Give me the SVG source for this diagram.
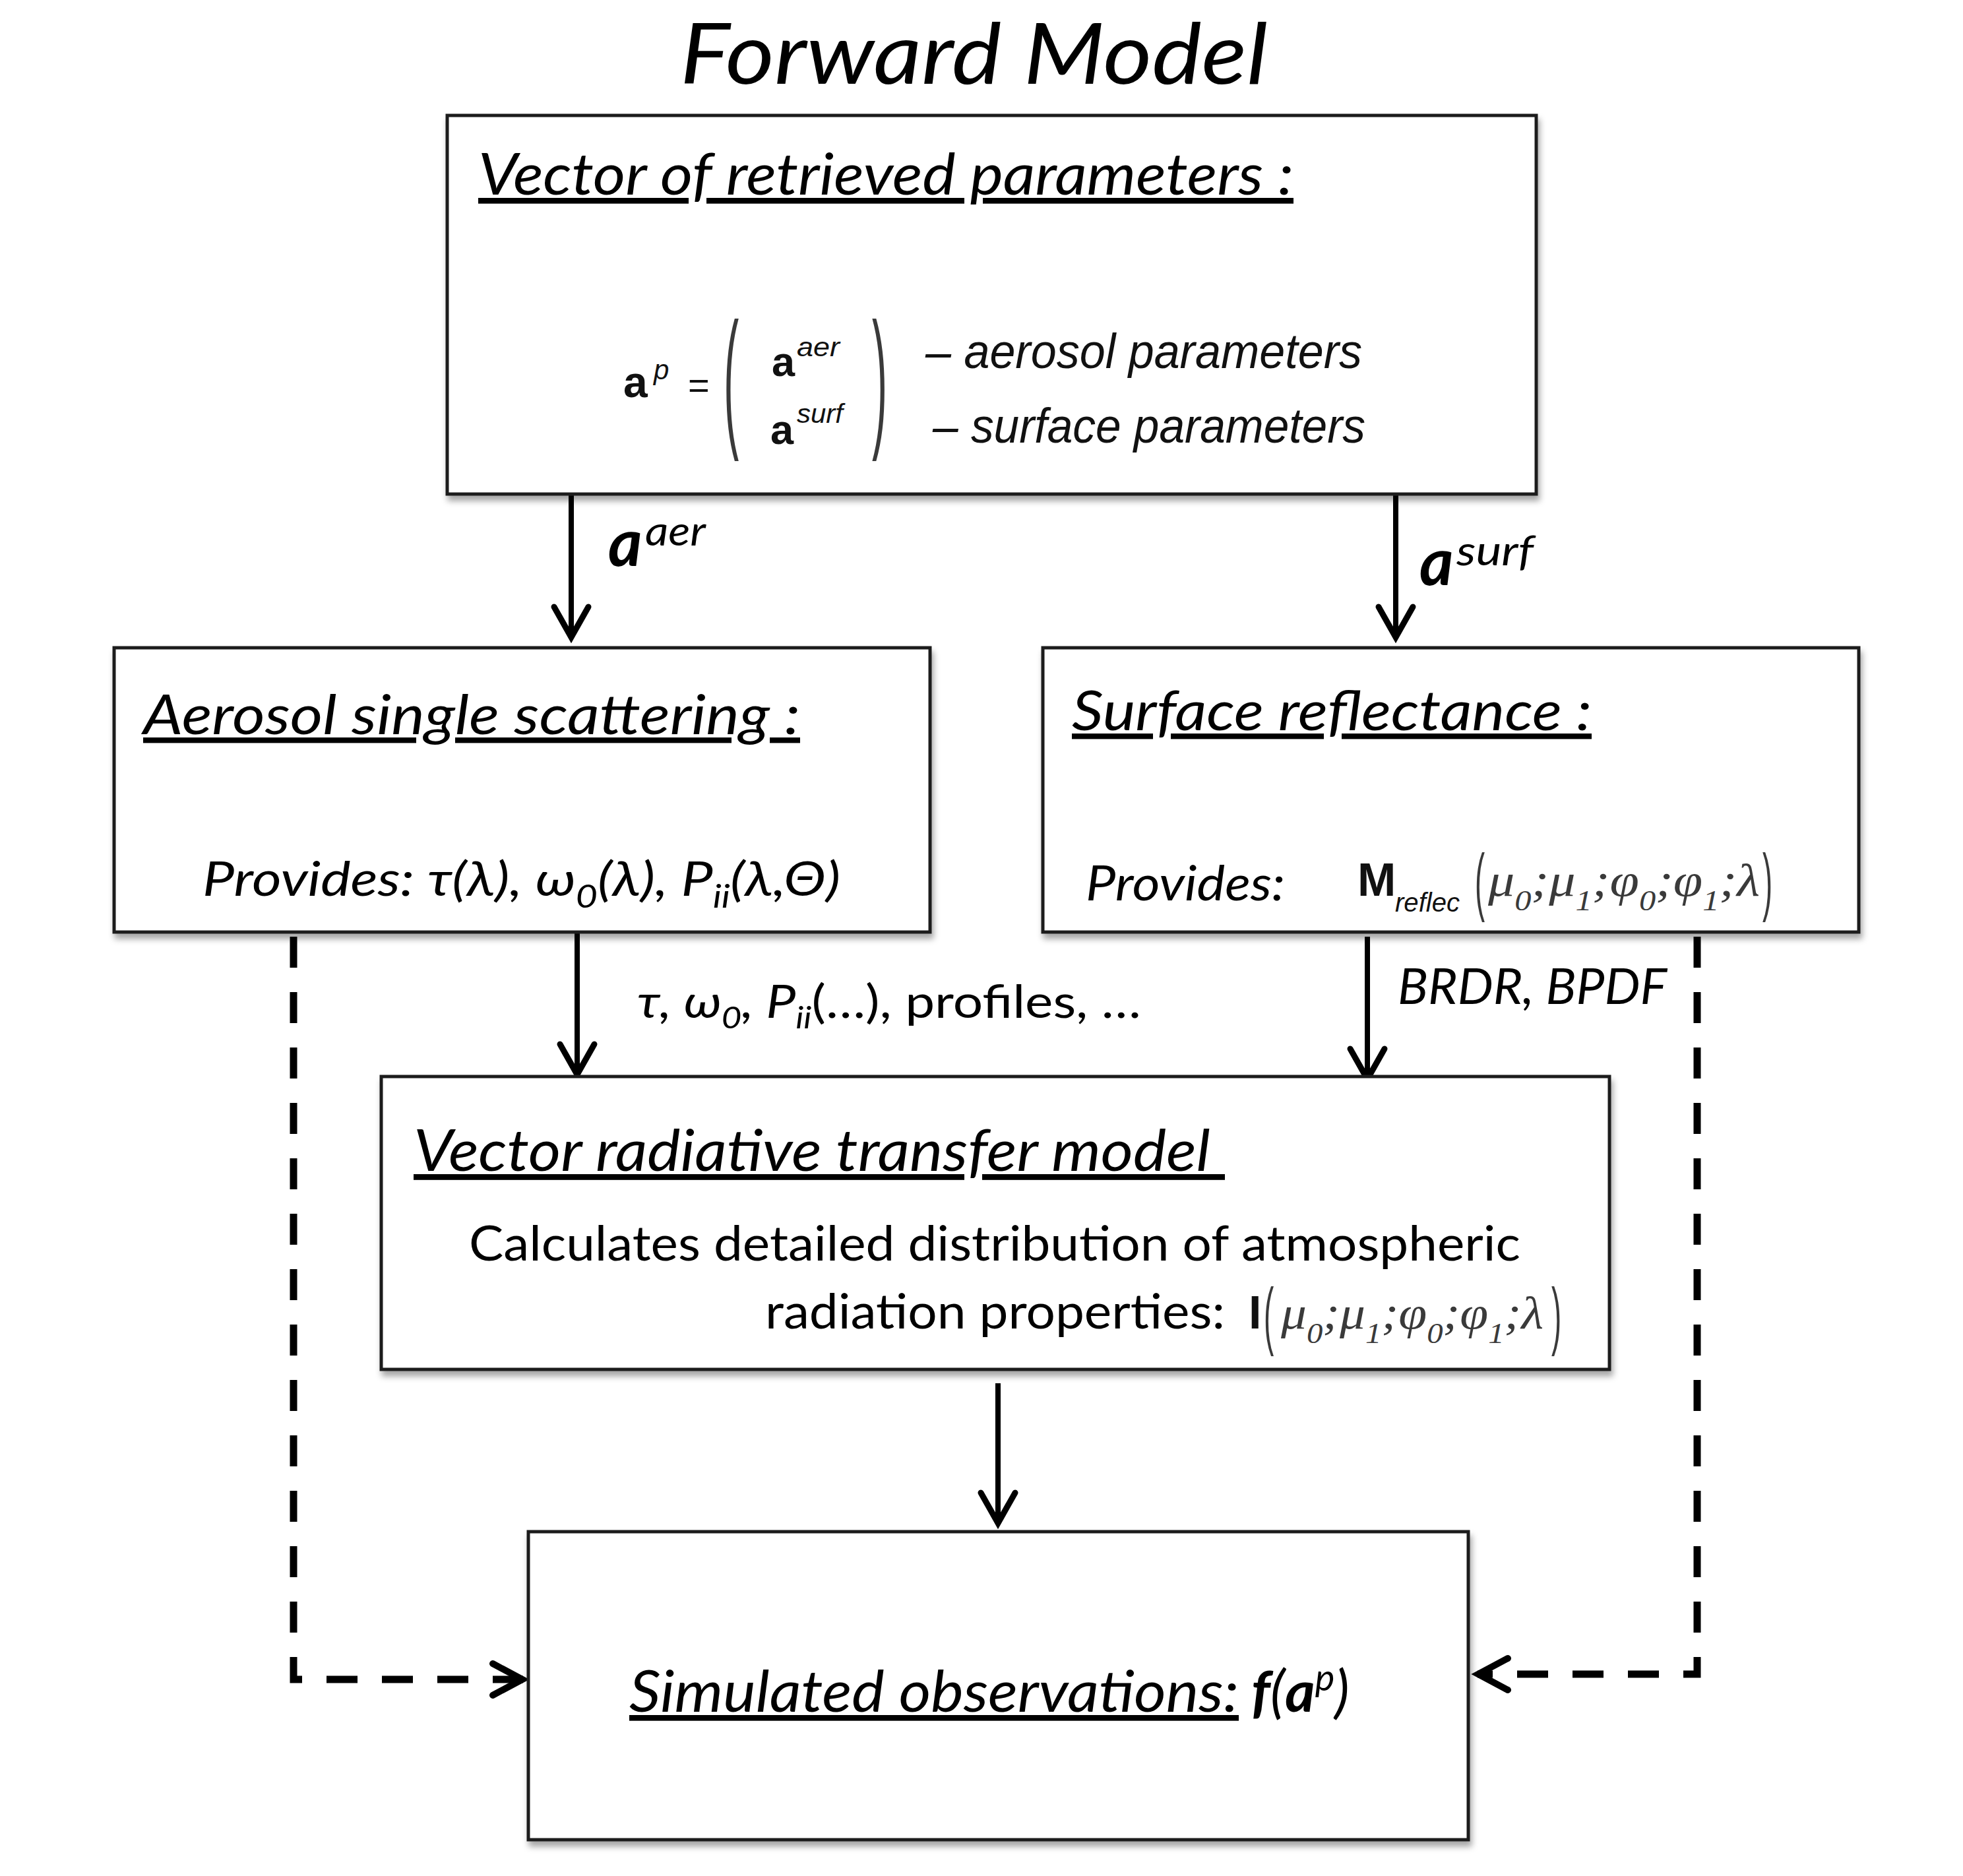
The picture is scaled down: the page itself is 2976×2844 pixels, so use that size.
<svg xmlns="http://www.w3.org/2000/svg" width="2976" height="2844" viewBox="0 0 2976 2844">
<style>
.box{fill:#fff;stroke:#1e1e1e;stroke-width:5;filter:url(#sh)}
.cal{font-family:Lato,'Noto Sans','DejaVu Sans',sans-serif;fill:#000}
.it{font-style:italic}
.ar{font-family:'Liberation Sans',Arial,sans-serif;fill:#111}
.ser{font-family:'Liberation Serif','DejaVu Serif',serif;font-style:italic;fill:#3a3a3a}
.par{font-family:'Liberation Sans',Arial,sans-serif;fill:#3a3a3a}
.solid{fill:none;stroke:#000;stroke-width:8;marker-end:url(#ah)}
.dash{fill:none;stroke:#000;stroke-width:11;stroke-dasharray:47 37;marker-end:url(#ahd)}
</style>
<defs>
<filter id="sh" x="-5%" y="-5%" width="115%" height="120%">
<feDropShadow dx="3" dy="8" stdDeviation="5" flood-color="#000" flood-opacity="0.35"/>
</filter>
<marker id="ah" markerUnits="userSpaceOnUse" orient="auto" refX="0" refY="0" markerWidth="80" markerHeight="80" viewBox="-60 -40 80 80" overflow="visible">
<path d="M-45,-26 L1,0 L-45,26" fill="none" stroke="#000" stroke-width="9" stroke-dasharray="none" stroke-linejoin="miter" stroke-linecap="round"/>
</marker>
<marker id="ahd" markerUnits="userSpaceOnUse" orient="auto" refX="0" refY="0" markerWidth="80" markerHeight="80" viewBox="-60 -40 80 80" overflow="visible">
<path d="M-46,-24 L-1,0 L-46,24" fill="none" stroke="#000" stroke-width="10" stroke-dasharray="none" stroke-linejoin="miter" stroke-linecap="round"/>
</marker>
</defs>
<rect width="2976" height="2844" fill="#fff"/>

<text id="title" class="cal it" x="1031" y="127" font-size="128" textLength="891" lengthAdjust="spacingAndGlyphs">Forward Model</text>

<g id="connectors">
<path class="solid" d="M866,751 V965"/>
<path class="solid" d="M2116,751 V965"/>
<path class="solid" d="M875,1415 V1628"/>
<path class="solid" d="M2073,1420 V1635"/>
<path class="solid" d="M1513,2097 V2308"/>
<path class="dash" d="M445,1420 V2546 H793"/>
<path class="dash" d="M2573,1420 V2538 H2240"/>
<g id="connector-labels">
<text class="cal it" font-size="99" font-weight="bold" x="922" y="858">a</text>
<text class="cal it" font-size="63" x="978" y="827" textLength="92" lengthAdjust="spacingAndGlyphs">aer</text>
<text class="cal it" font-size="99" font-weight="bold" x="2152" y="887">a</text>
<text class="cal it" font-size="63" x="2208" y="857" textLength="117" lengthAdjust="spacingAndGlyphs">surf</text>
<text class="cal" font-size="70" x="966" y="1543" textLength="764" lengthAdjust="spacingAndGlyphs"><tspan font-style="italic">τ, ω</tspan><tspan font-style="italic" font-size="46" dy="16">0</tspan><tspan font-style="italic" dy="-16">, P</tspan><tspan font-style="italic" font-size="46" dy="16">ii</tspan><tspan dy="-16">(…), profiles, …</tspan></text>
<text class="cal it" font-size="75" x="2119" y="1522" textLength="408" lengthAdjust="spacingAndGlyphs">BRDR, BPDF</text>
</g>
</g>

<g id="node-vector">
<rect class="box" x="678" y="175" width="1651" height="574"/>
<text class="cal it" font-size="87" x="725" y="295" textLength="1236" lengthAdjust="spacingAndGlyphs" text-decoration="underline">Vector of retrieved parameters :</text>
<text class="ar" font-weight="bold" font-size="66" x="945" y="602">a</text>
<text class="ar it" font-size="42" x="991" y="575">p</text>
<text class="ar" font-size="56" x="1043" y="603">=</text>
<text class="par" font-size="232" transform="translate(1097,651) scale(0.3,1)">(</text>
<text class="ar" font-weight="bold" font-size="63" x="1170" y="570">a</text>
<text class="ar it" font-size="40" x="1208" y="540" textLength="65" lengthAdjust="spacingAndGlyphs">aer</text>
<text class="ar" font-weight="bold" font-size="63" x="1168" y="673">a</text>
<text class="ar it" font-size="40" x="1208" y="641" textLength="70" lengthAdjust="spacingAndGlyphs">surf</text>
<text class="par" font-size="232" transform="translate(1322,651) scale(0.3,1)">)</text>
<text class="ar it" font-size="74" x="1403" y="558" textLength="662" lengthAdjust="spacingAndGlyphs" fill="#222">– aerosol parameters</text>
<text class="ar it" font-size="74" x="1414" y="671" textLength="656" lengthAdjust="spacingAndGlyphs" fill="#222">– surface parameters</text>
</g>

<g id="node-aerosol">
<rect class="box" x="173" y="982" width="1237" height="431"/>
<text class="cal it" font-size="84" x="217" y="1113" textLength="996" lengthAdjust="spacingAndGlyphs" text-decoration="underline">Aerosol single scattering :</text>
<text class="cal it" font-size="72" x="307" y="1358" textLength="967" lengthAdjust="spacingAndGlyphs">Provides: τ(λ), ω<tspan font-size="48" dy="18">0</tspan><tspan dy="-18">(λ), P</tspan><tspan font-size="48" dy="18">ii</tspan><tspan dy="-18">(λ,Θ)</tspan></text>
</g>

<g id="node-surface">
<rect class="box" x="1581" y="982" width="1237" height="431"/>
<text class="cal it" font-size="84" x="1625" y="1107" textLength="788" lengthAdjust="spacingAndGlyphs" text-decoration="underline">Surface reflectance :</text>
<text class="cal it" font-size="73" x="1646" y="1365" textLength="302" lengthAdjust="spacingAndGlyphs">Provides:</text>
<text class="ar" font-weight="bold" font-size="70" x="2058" y="1358">M</text>
<text class="ar it" font-size="40" x="2115" y="1382" textLength="98" lengthAdjust="spacingAndGlyphs" fill="#333">reflec</text>
<text class="par" font-size="113" transform="translate(2236,1374) scale(0.4,1)">(</text>
<text class="ser" font-size="70" x="2256" y="1358" textLength="412" lengthAdjust="spacingAndGlyphs">μ<tspan font-size="44" dy="22">0</tspan><tspan dy="-22">;μ</tspan><tspan font-size="44" dy="22">1</tspan><tspan dy="-22">;φ</tspan><tspan font-size="44" dy="22">0</tspan><tspan dy="-22">;φ</tspan><tspan font-size="44" dy="22">1</tspan><tspan dy="-22">;λ</tspan></text>
<text class="par" font-size="113" transform="translate(2672,1374) scale(0.4,1)">)</text>
</g>

<g id="node-vrt">
<rect class="box" x="578" y="1632" width="1862" height="444"/>
<text class="cal it" font-size="88" x="627" y="1775" textLength="1230" lengthAdjust="spacingAndGlyphs" text-decoration="underline">Vector radiative transfer model&#160;</text>
<text class="cal" font-size="74" x="711" y="1911" textLength="1594" lengthAdjust="spacingAndGlyphs">Calculates detailed distribution of atmospheric</text>
<text class="cal" font-size="74" x="1160" y="2014" textLength="697" lengthAdjust="spacingAndGlyphs">radiation properties:</text>
<text class="ar" font-weight="bold" font-size="70" x="1893" y="2014">I</text>
<text class="par" font-size="114" transform="translate(1916,2032) scale(0.4,1)">(</text>
<text class="ser" font-size="70" x="1942" y="2014" textLength="398" lengthAdjust="spacingAndGlyphs">μ<tspan font-size="44" dy="22">0</tspan><tspan dy="-22">;μ</tspan><tspan font-size="44" dy="22">1</tspan><tspan dy="-22">;φ</tspan><tspan font-size="44" dy="22">0</tspan><tspan dy="-22">;φ</tspan><tspan font-size="44" dy="22">1</tspan><tspan dy="-22">;λ</tspan></text>
<text class="par" font-size="114" transform="translate(2352,2032) scale(0.4,1)">)</text>
</g>

<g id="node-simulated">
<rect class="box" x="801" y="2322" width="1425" height="467"/>
<text class="cal it" font-size="87" x="954" y="2595" textLength="924" lengthAdjust="spacingAndGlyphs" text-decoration="underline">Simulated observations:</text>
<text class="cal it" font-size="87" x="1897" y="2595"><tspan font-weight="bold">f</tspan>(<tspan font-weight="bold">a</tspan><tspan font-size="56" dy="-32">p</tspan><tspan dy="32">)</tspan></text>
</g>
</svg>
